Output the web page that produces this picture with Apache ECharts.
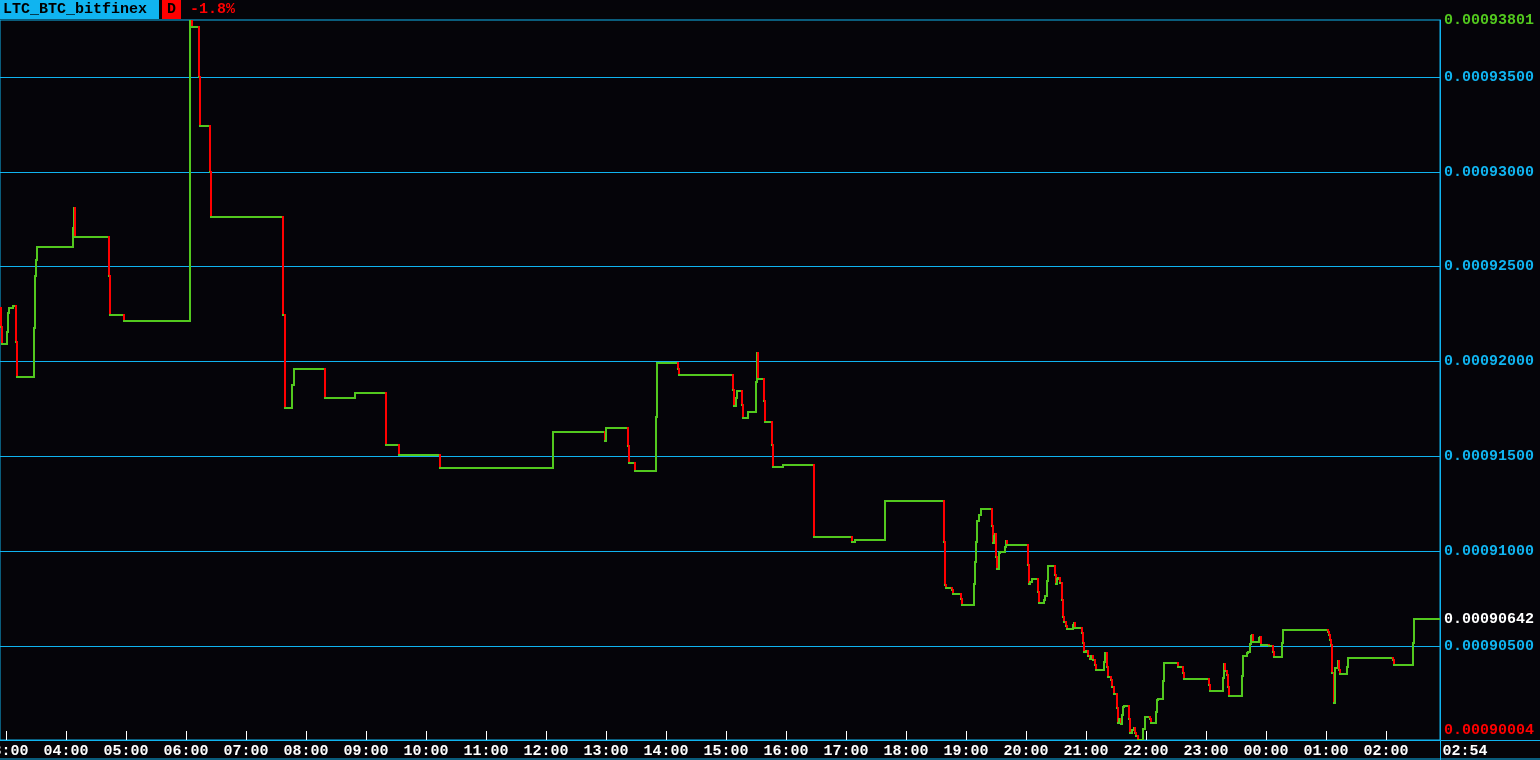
<!DOCTYPE html>
<html>
<head>
<meta charset="utf-8">
<script src="https://cdn.jsdelivr.net/npm/echarts@6/dist/echarts.min.js"></script>
<style>
html,body{margin:0;padding:0;background:#050409;}
#chart{width:1540px;height:760px;}
</style>
</head>
<body>
<div id="chart"></div>
<script>
// ---- DATA ----
// minutes after 03:00 (start of the visible session)
var minutesFrom0300 = [
  -6,-5,-4,1,2,3,7,10,11,28,29,30,31,67,68,69,103,104,118,184,186,193,194,204,205,
  277,279,286,288,319,349,380,393,434,547,599,600,622,623,629,650,651,672,673,727,728,
  730,731,736,737,742,750,751,752,758,759,766,767,777,808,846,849,879,938,939,940,946,
  947,955,956,968,969,970,971,973,975,986,987,988,989,990,991,993,994,999,1000,1001,
  1022,1023,1024,1026,1032,1033,1038,1039,1041,1042,1049,1050,1051,1052,1054,1056,1057,
  1058,1060,1061,1067,1068,1069,1076,1077,1078,1080,1082,1084,1085,1087,1089,1090,1098,
  1099,1101,1102,1105,1106,1108,1111,1112,1113,1115,1116,1117,1118,1123,1124,1126,1128,
  1129,1130,1132,1137,1139,1144,1145,1150,1151,1152,1157,1158,1172,1177,1178,1203,1204,
  1217,1218,1219,1221,1222,1223,1236,1237,1241,1242,1244,1245,1246,1247,1253,1254,1255,
  1263,1267,1268,1276,1277,1322,1323,1324,1325,1326,1328,1329,1332,1333,1334,1341,1342,
  1387,1388,1407,1408,1434
];
// LTC/BTC price
var prices = [
  0.00092282,0.00092181,0.00092092,0.00092155,0.00092255,0.00092282,0.00092292,0.00092102,0.00091918,
  0.00092176,0.00092450,0.00092535,0.00092603,0.00092704,0.00092809,0.00092656,0.00092450,0.00092245,
  0.00092213,0.00093801,0.00093764,0.00093500,0.00093242,0.00092999,0.00092762,
  0.00092245,0.00091754,0.00091876,0.00091960,0.00091807,0.00091833,0.00091559,0.00091506,0.00091438,
  0.00091628,0.00091580,0.00091649,0.00091554,0.00091464,0.00091422,0.00091707,0.00091992,0.00091960,
  0.00091928,0.00091849,0.00091765,
  0.00091807,0.00091844,0.00091770,0.00091702,0.00091733,0.00091891,0.00092044,0.00091907,0.00091791,
  0.00091680,0.00091559,0.00091443,0.00091454,0.00091074,0.00091047,0.00091058,0.00091264,0.00091047,
  0.00090821,0.00090805,0.00090794,
  0.00090773,0.00090747,0.00090715,0.00090826,0.00090942,0.00091047,0.00091158,0.00091190,0.00091222,
  0.00091132,0.00091042,0.00091079,0.00091090,0.00090968,0.00090905,0.00090990,0.00090995,0.00091021,
  0.00091053,0.00091032,
  0.00090926,0.00090826,0.00090837,0.00090853,0.00090784,0.00090726,0.00090742,0.00090763,0.00090842,
  0.00090921,0.00090873,0.00090826,0.00090853,0.00090858,0.00090832,0.00090742,0.00090652,
  0.00090626,0.00090605,0.00090589,0.00090610,0.00090621,0.00090594,0.00090568,0.00090515,0.00090467,
  0.00090473,0.00090446,0.00090431,0.00090446,0.00090425,0.00090399,0.00090372,0.00090415,
  0.00090462,0.00090388,0.00090336,0.00090320,0.00090283,0.00090246,0.00090172,0.00090093,0.00090114,
  0.00090088,0.00090135,0.00090177,0.00090182,0.00090114,0.00090040,0.00090056,0.00090066,
  0.00090040,0.00090024,0.00090004,0.00090061,0.00090124,0.00090114,0.00090093,0.00090151,0.00090214,
  0.00090219,0.00090314,0.00090409,0.00090388,0.00090357,0.00090325,0.00090293,0.00090262,
  0.00090330,0.00090404,0.00090367,0.00090346,0.00090283,0.00090235,0.00090341,0.00090446,0.00090462,
  0.00090467,0.00090510,0.00090552,0.00090557,0.00090520,0.00090541,0.00090546,0.00090504,
  0.00090499,0.00090467,0.00090441,0.00090515,0.00090584,0.00090573,0.00090557,0.00090531,0.00090504,
  0.00090357,0.00090198,0.00090383,0.00090420,0.00090372,0.00090351,0.00090388,0.00090436,
  0.00090425,0.00090399,0.00090515,0.00090642,0.00090642
];
var hourTicks = [0,60,120,180,240,300,360,420,480,540,600,660,720,780,840,900,960,1020,1080,1140,1200,1260,1320,1380];
var priceTicks = [0.000905,0.00091,0.000915,0.00092,0.000925,0.00093,0.000935];
var symbolName = 'LTC_BTC_bitfinex';
var periodName = 'D';
var changeText = '-1.8%';
var lastTimeLabel = '02:54';

// ---- derived ----
var priceMax = Math.max.apply(null, prices);
var priceMin = Math.min.apply(null, prices);
var priceLast = prices[prices.length - 1];
var timeMin = -6, timeMax = minutesFrom0300[minutesFrom0300.length - 1];

var CYAN = '#10b4f0', GREEN = '#52c81e', RED = '#ff0000', BG = '#050409';
var FONT = 'Liberation Mono';
var FW = 'bold';

function hhmm(m) {
  var t = ((Math.round(m) + 180) % 1440 + 1440) % 1440;
  var h = Math.floor(t / 60), mm = t % 60;
  return (h < 10 ? '0' : '') + h + ':' + (mm < 10 ? '0' : '') + mm;
}
function same(a, b) { return Math.abs(a - b) < 1e-12; }
function px(v) { return Math.round(v); }

var chart = echarts.init(document.getElementById('chart'), null, {renderer: 'canvas'});
var option = {
  backgroundColor: BG,
  animation: false,
  title: [
    {text: symbolName, left: 0, top: 0, padding: [2, 12, 2, 3], backgroundColor: CYAN,
     textStyle: {color: '#000', fontFamily: FONT, fontSize: 15, fontWeight: FW, lineHeight: 15}},
    {text: periodName, left: 162, top: 0, padding: [2, 5, 2, 5], backgroundColor: RED,
     textStyle: {color: '#000', fontFamily: FONT, fontSize: 15, fontWeight: FW, lineHeight: 15}},
    {text: changeText, left: 188, top: 0, padding: [2, 2, 2, 2],
     textStyle: {color: RED, fontFamily: FONT, fontSize: 15, fontWeight: FW, lineHeight: 15}}
  ],
  grid: {left: 0, right: 100, top: 20, bottom: 20, containLabel: false, outerBoundsMode: 'none',
         show: true, borderColor: CYAN, borderWidth: 1, backgroundColor: 'transparent'},
  xAxis: {
    type: 'value', min: timeMin, max: timeMax,
    axisLine: {show: true, onZero: false, lineStyle: {color: CYAN, width: 1}},
    axisTick: {show: true, inside: true, length: 9, customValues: hourTicks, lineStyle: {color: '#ffffff', width: 1}},
    splitLine: {show: false},
    axisLabel: {
      customValues: hourTicks.concat([timeMax]),
      color: '#ffffff', fontFamily: FONT, fontSize: 15, fontWeight: FW, margin: 4,
      formatter: function (v) {
        if (same(v, timeMax)) return '{last|' + lastTimeLabel + '}';
        return hhmm(v);
      },
      rich: {last: {color: '#ffffff', fontFamily: FONT, fontSize: 15, fontWeight: FW, padding: [0, 0, 0, 50]}}
    }
  },
  yAxis: {
    type: 'value', position: 'right', min: priceMin, max: priceMax,
    axisLine: {show: true, onZero: false, lineStyle: {color: CYAN, width: 1}},
    axisTick: {show: false, customValues: priceTicks},
    splitLine: {show: true, lineStyle: {color: CYAN, width: 1}},
    axisLabel: {
      customValues: priceTicks.concat([priceMax, priceMin, priceLast]),
      color: CYAN, fontFamily: FONT, fontSize: 15, fontWeight: FW, margin: 4,
      formatter: function (v) {
        var s = v.toFixed(8);
        if (same(v, priceMax)) return '{hi|' + s + '}';
        if (same(v, priceMin)) return '{lo|' + s + '}';
        if (same(v, priceLast)) return '{cur|' + s + '}';
        return s;
      },
      rich: {
        hi: {color: GREEN, fontFamily: FONT, fontSize: 15, fontWeight: FW},
        lo: {color: RED, fontFamily: FONT, fontSize: 15, fontWeight: FW, padding: [0, 0, 20, 0]},
        cur: {color: '#ffffff', fontFamily: FONT, fontSize: 15, fontWeight: FW}
      }
    }
  },
  graphic: [
    {type: 'line', silent: true, shape: {x1: 1440, y1: 740.5, x2: 1540, y2: 740.5}, style: {stroke: CYAN, lineWidth: 1}},
    {type: 'line', silent: true, shape: {x1: 1440.5, y1: 740, x2: 1440.5, y2: 760}, style: {stroke: CYAN, lineWidth: 1}},
    {type: 'line', silent: true, shape: {x1: 0, y1: 759, x2: 1540, y2: 759}, style: {stroke: CYAN, lineWidth: 1}}
  ],
  series: [{
    type: 'custom',
    clip: true,
    data: minutesFrom0300.map(function (m, i) { return [m, prices[i]]; }),
    encode: {x: 0, y: 1},
    renderItem: function (params, api) {
      var i = params.dataIndex;
      if (i === 0) return null;
      var t0 = minutesFrom0300[i - 1], p0 = prices[i - 1];
      var t1 = minutesFrom0300[i], p1 = prices[i];
      var a = api.coord([t0, p0]), b = api.coord([t1, p0]), c = api.coord([t1, p1]);
      var children = [{
        type: 'line', shape: {x1: px(a[0]), y1: px(a[1]), x2: px(b[0]), y2: px(b[1])},
        style: {stroke: GREEN, lineWidth: 2, lineCap: 'square'}
      }];
      if (!same(p0, p1)) {
        children.push({
          type: 'line', shape: {x1: px(b[0]), y1: px(b[1]), x2: px(c[0]), y2: px(c[1])},
          style: {stroke: p1 > p0 ? GREEN : RED, lineWidth: 2, lineCap: 'square'}
        });
      }
      return {type: 'group', children: children};
    }
  }]
};
chart.setOption(option);
</script>
</body>
</html>
